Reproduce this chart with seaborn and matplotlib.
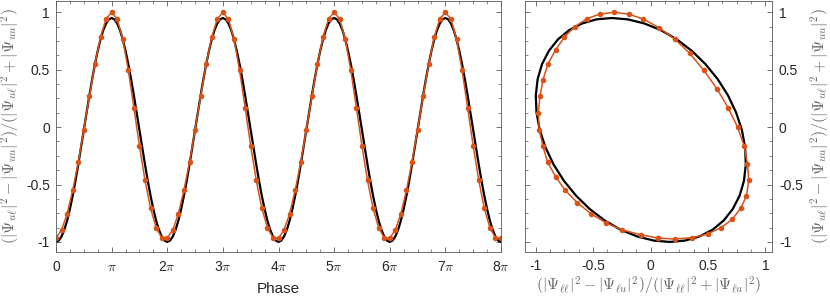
import numpy as np
import matplotlib
matplotlib.use('Agg')
import matplotlib.pyplot as plt
import seaborn as sns
from matplotlib.ticker import MultipleLocator, FixedLocator, FixedFormatter

# one period of the signal, phase steps of pi/20 starting at phase 0
PERIODS = 4
orange_x = [0.063, -0.084, -0.247, -0.391, -0.519, -0.638, -0.743, -0.826, -0.896, -0.937,
            -0.969, -0.977, -0.963, -0.937, -0.893, -0.826, -0.751, -0.661, -0.557, -0.443,
            -0.322, -0.191, -0.064, 0.075, 0.211, 0.342, 0.463, 0.577, 0.675, 0.757,
            0.814, 0.843, 0.855, 0.835, 0.785, 0.710, 0.614, 0.496, 0.359, 0.211]
orange_y = [-0.966, -0.937, -0.896, -0.832, -0.754, -0.658, -0.550, -0.433, -0.306, -0.166,
            -0.023, 0.126, 0.268, 0.411, 0.550, 0.673, 0.783, 0.873, 0.943, 0.984,
            0.999, 0.984, 0.941, 0.865, 0.766, 0.641, 0.495, 0.335, 0.169, 0.0,
            -0.163, -0.317, -0.463, -0.597, -0.707, -0.803, -0.876, -0.931, -0.963, -0.975]
black_x = [0.167, 0.027, -0.117, -0.260, -0.398, -0.529, -0.648, -0.754, -0.844, -0.914,
           -0.965, -0.993, -0.999, -0.983, -0.945, -0.885, -0.806, -0.709, -0.597, -0.472,
           -0.337, -0.197, -0.053, 0.090, 0.228, 0.359, 0.478, 0.584, 0.674, 0.744,
           0.795, 0.823, 0.829, 0.813, 0.775, 0.715, 0.636, 0.539, 0.427, 0.302]
black_y = [-1.000, -0.988, -0.952, -0.894, -0.814, -0.714, -0.598, -0.468, -0.326, -0.178,
           -0.025, 0.128, 0.276, 0.418, 0.548, 0.664, 0.764, 0.844, 0.902, 0.938,
           0.950, 0.938, 0.902, 0.844, 0.764, 0.664, 0.548, 0.418, 0.276, 0.128,
           -0.025, -0.178, -0.326, -0.468, -0.598, -0.714, -0.814, -0.894, -0.952, -0.988]

phase_labels = ['0', r'$\pi$', r'2$\pi$', r'3$\pi$', r'4$\pi$', r'5$\pi$', r'6$\pi$', r'7$\pi$', r'8$\pi$']
y_ticks = [-1, -0.5, 0, 0.5, 1]
y_tick_labels = ['-1', '-0.5', '0', '0.5', '1']

ORANGE = '#D95319'
AXCOL = '0.35'
TXTCOL = '0.15'
LABCOL = '0.4'

sns.set_theme(style='white', rc={
    'axes.edgecolor': AXCOL,
    'axes.linewidth': 0.6,
    'xtick.direction': 'in',
    'ytick.direction': 'in',
    'xtick.color': AXCOL,
    'ytick.color': AXCOL,
    'xtick.labelcolor': TXTCOL,
    'ytick.labelcolor': TXTCOL,
    'xtick.major.size': 3.5,
    'ytick.major.size': 3.5,
    'xtick.minor.size': 2,
    'ytick.minor.size': 2,
    'xtick.major.width': 0.6,
    'ytick.major.width': 0.6,
    'xtick.minor.width': 0.5,
    'ytick.minor.width': 0.5,
})
plt.rcParams['font.family'] = ['Liberation Sans', 'DejaVu Sans']
plt.rcParams['mathtext.fontset'] = 'cm'

fig = plt.figure(figsize=(8.3, 2.98), dpi=100)
W, H = 830, 298
ax1 = fig.add_axes([56 / W, 46.3 / H, 445 / W, 250.7 / H])
ax2 = fig.add_axes([525 / W, 46.3 / H, 247 / W, 250.7 / H])

# left panel: signal vs phase
ph_black = np.arange(PERIODS * 40 + 1) * np.pi / 20
ph_orange = np.arange(PERIODS * 20 + 1) * np.pi / 10
yb = np.append(np.tile(black_y, PERIODS), black_y[0])
yo = np.append(np.tile(orange_y[::2], PERIODS), orange_y[0])

sns.lineplot(x=ph_black, y=yb, ax=ax1, color='black', lw=1.6, sort=False, estimator=None)
sns.lineplot(x=ph_orange, y=yo, ax=ax1, color=ORANGE, lw=1.1, marker='o', markersize=4,
             markeredgewidth=0, sort=False, estimator=None)

# right panel: closed loop of both quantities
sns.lineplot(x=black_x + black_x[:1], y=black_y + black_y[:1], ax=ax2, color='black', lw=1.6,
             sort=False, estimator=None)
sns.lineplot(x=orange_x + orange_x[:1], y=orange_y + orange_y[:1], ax=ax2, color=ORANGE, lw=1.1,
             marker='o', markersize=4, markeredgewidth=0, sort=False, estimator=None)

ylim = (-1.085, 1.098)
for ax in (ax1, ax2):
    ax.set_ylim(*ylim)
    ax.yaxis.set_major_locator(FixedLocator(y_ticks))
    ax.yaxis.set_major_formatter(FixedFormatter(y_tick_labels))
    ax.yaxis.set_minor_locator(MultipleLocator(0.125))
    ax.tick_params(which='both', top=True, bottom=True, left=True, right=True, labelsize=10)
    for s in ax.spines.values():
        s.set_visible(True)

ax1.set_xlim(0, 8 * np.pi)
ax1.xaxis.set_major_locator(FixedLocator(np.arange(9) * np.pi))
ax1.xaxis.set_major_formatter(FixedFormatter(phase_labels))
ax1.xaxis.set_minor_locator(MultipleLocator(np.pi / 4))
ax1.tick_params(axis='x', pad=6)
ax1.tick_params(axis='y', pad=4.5)
ax1.set_xlabel('Phase', fontsize=11, color=TXTCOL)
ax1.xaxis.set_label_coords(0.5, -0.122)
ax1.set_ylabel(r'$(|\Psi_{u\ell}|^2-|\Psi_{uu}|^2)/(|\Psi_{u\ell}|^2+|\Psi_{uu}|^2)$',
               fontsize=11.4, color=LABCOL)
ax1.yaxis.set_label_coords(-35 / 445, 0.5)

ax2.set_xlim(-1.093, 1.057)
ax2.xaxis.set_major_locator(FixedLocator(y_ticks))
ax2.xaxis.set_major_formatter(FixedFormatter(y_tick_labels))
ax2.xaxis.set_minor_locator(MultipleLocator(0.125))
ax2.tick_params(axis='x', pad=5)
ax2.tick_params(axis='y', labelleft=False, labelright=True, pad=5)
ax2.set_xlabel(r'$(|\Psi_{\ell\ell}|^2-|\Psi_{\ell u}|^2)/(|\Psi_{\ell\ell}|^2+|\Psi_{\ell u}|^2)$',
               fontsize=11.2, color=LABCOL)
ax2.xaxis.set_label_coords(0.5, -0.092)
ax2.yaxis.set_label_position('right')
ax2.set_ylabel(r'$(|\Psi_{u\ell}|^2-|\Psi_{uu}|^2)/(|\Psi_{u\ell}|^2+|\Psi_{uu}|^2)$',
               fontsize=11.4, color=LABCOL)
ax2.yaxis.set_label_coords(284 / 247, 0.5)

fig.savefig('out.png', dpi=100)
